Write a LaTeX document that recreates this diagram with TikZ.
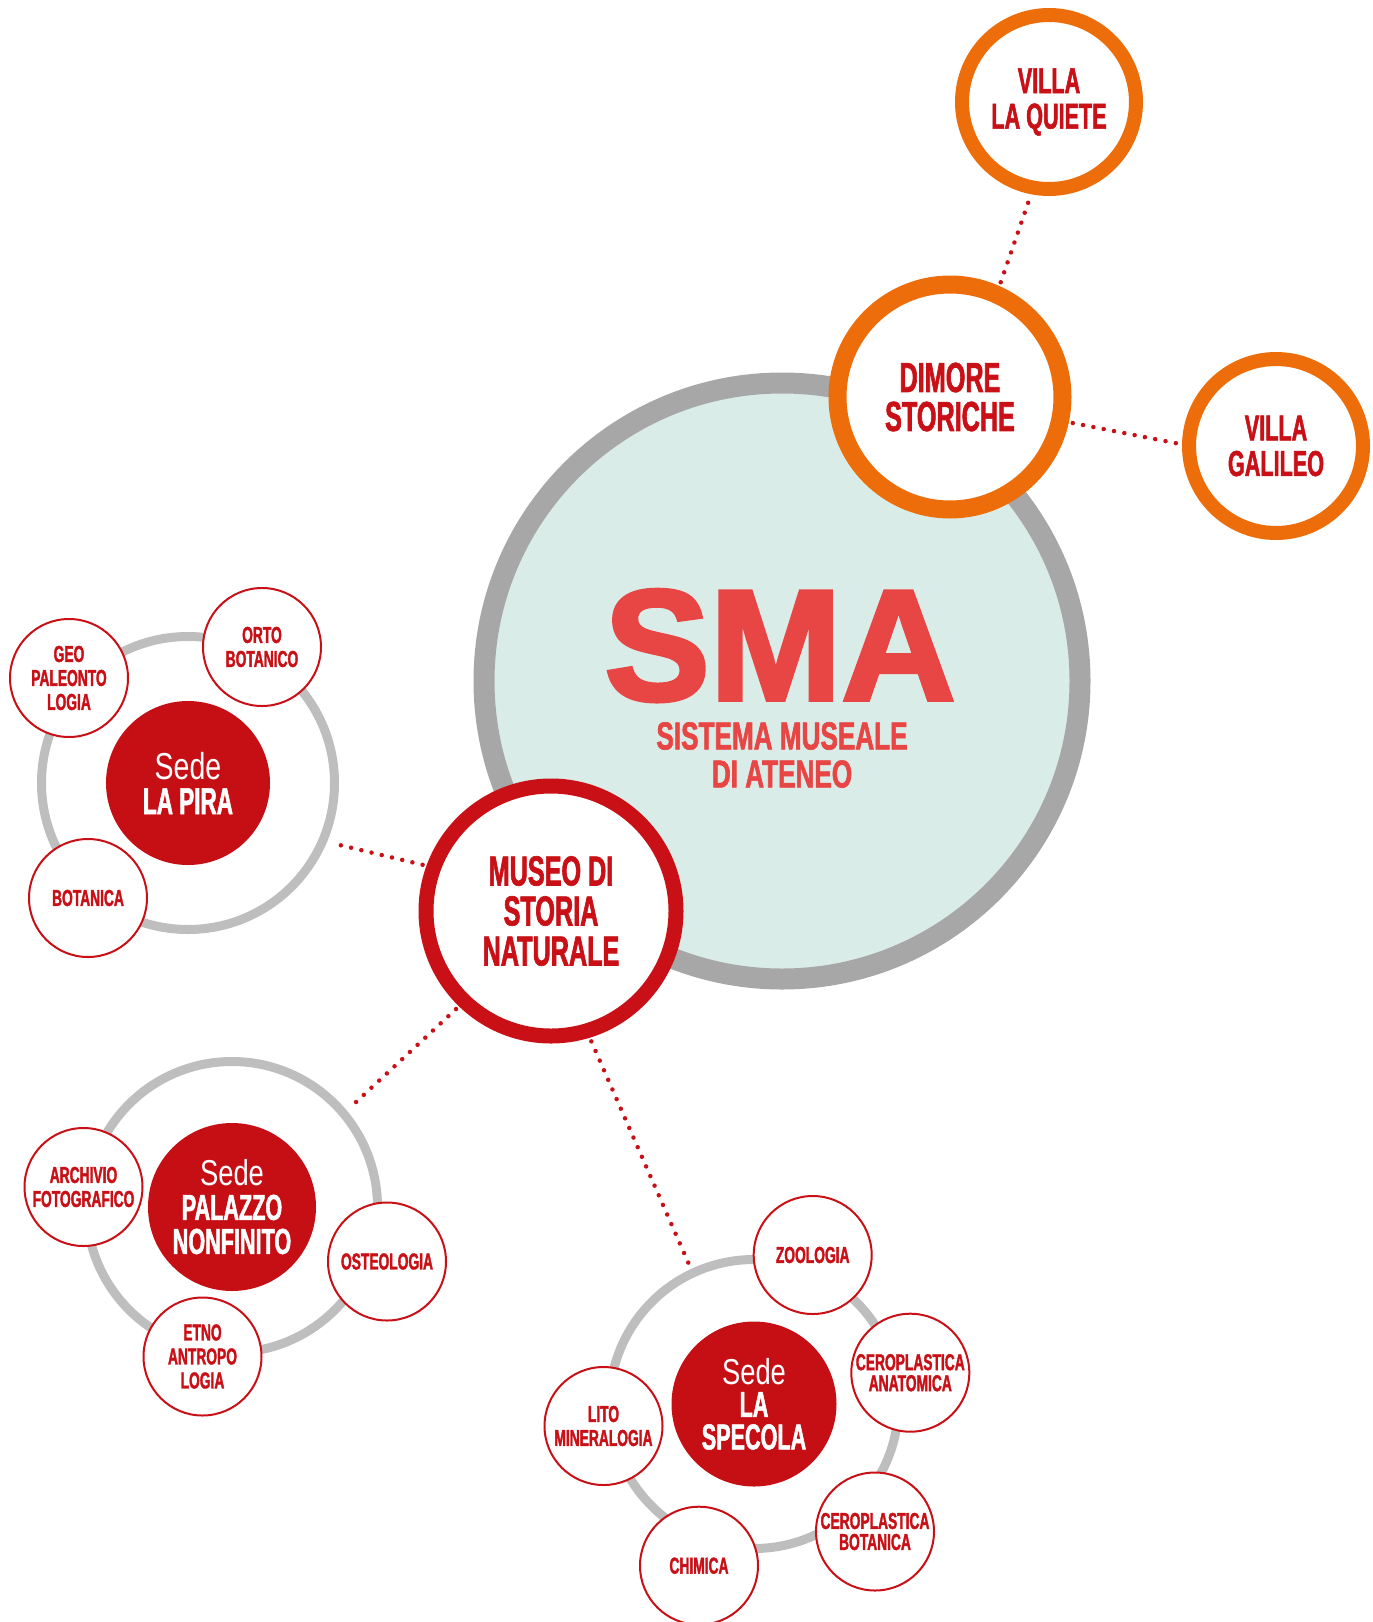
\documentclass[tikz,border=0pt]{standalone}
\usepackage{fontspec}
\setmainfont{Liberation Sans}
\newfontfamily\dinfont{Liberation Sans}[FakeStretch=0.6, BoldFeatures={FakeBold=1.5}]
\newfontfamily\dinwide{Liberation Sans}[FakeStretch=0.67, BoldFeatures={FakeBold=1.5}]
\newfontfamily\sedefont{Liberation Sans}[FakeStretch=0.76]
\newfontfamily\smafont{Liberation Sans}[BoldFeatures={FakeBold=2.5}]
\usepackage{tikz}
\usetikzlibrary{positioning}

\definecolor{smared}{HTML}{E84545}
\definecolor{museored}{HTML}{C81016}
\definecolor{sedered}{HTML}{C60F15}
\definecolor{dimoreorange}{HTML}{EC6D0A}
\definecolor{smamint}{HTML}{DAECE7}
\definecolor{smagray}{HTML}{A7A7A7}
\definecolor{ringgray}{HTML}{BEBEBE}

\begin{document}
\begin{tikzpicture}[x=1pt, y=-1pt,
		smallbox/.style={circle, draw=museored, line width=2pt, fill=white, minimum size=118pt, inner sep=0pt, text=museored, align=center, font=\dinfont\bfseries\fontsize{23}{24}\selectfont},
		sedebox/.style={circle, fill=sedered, inner sep=0pt, text=white, align=center, font=\dinfont\bfseries\fontsize{36}{34}\selectfont},
		ringbox/.style={circle, draw=ringgray, line width=9pt, inner sep=0pt},
		villabox/.style={circle, draw=dimoreorange, line width=14pt, fill=white, minimum size=174pt, inner sep=0pt, text=museored, align=center, font=\dinfont\bfseries\fontsize{36}{35.5}\selectfont},
		link/.style={museored, line width=4.5pt, line cap=round, dash pattern=on 0pt off 10.5pt, shorten <=4pt, shorten >=4pt}]
		\useasboundingbox (0,0) rectangle (1373,1622);

		% sistema museale
		\node[circle, draw=smagray, line width=21pt, fill=smamint, minimum size=596pt, inner sep=0pt] (sma) at (782,681) {};
		\node[text=smared, inner sep=0pt, anchor=base, font=\smafont\bfseries\fontsize{158}{158}\selectfont] (smatitle) at (780,700) {SMA};
		\node[text=smared, inner sep=0pt, align=center, font=\dinwide\bfseries\fontsize{39}{38}\selectfont] (smasub) at (782,755) {SISTEMA MUSEALE\\DI ATENEO};

		% dimore storiche
		\node[circle, draw=dimoreorange, line width=18pt, fill=white, minimum size=225pt, inner sep=0pt, text=museored, align=center, font=\dinfont\bfseries\fontsize{42}{39}\selectfont] (dimore) at (950,397) {DIMORE\\STORICHE};
		\node[villabox] (quiete) at (1049,102) {VILLA\\LA QUIETE};
		\node[villabox] (galileo) at (1276,446) {VILLA\\GALILEO};

		% museo di storia naturale
		\node[circle, draw=museored, line width=15pt, fill=white, minimum size=250pt, inner sep=0pt, text=museored, align=center, font=\dinfont\bfseries\fontsize{42}{40}\selectfont] (museo) at (551,911) {MUSEO DI\\STORIA\\NATURALE};

		% la pira
		\node[ringbox, minimum size=293pt] (piraring) at (188,783) {};
		\node[sedebox, minimum size=164pt, font=\dinfont\bfseries\fontsize{37.5}{35}\selectfont] (pira) at (188,783) {{\sedefont\mdseries Sede}\\LA PIRA};
		\node[smallbox] (geo) at (69,678) {GEO\\PALEONTO\\LOGIA};
		\node[smallbox] (orto) at (262,647) {ORTO\\BOTANICO};
		\node[smallbox] (botanica) at (88,898) {BOTANICA};

		% palazzo nonfinito
		\node[ringbox, minimum size=291pt] (palazzoring) at (232,1207) {};
		\node[sedebox, minimum size=168pt] (palazzo) at (232,1207) {{\sedefont\mdseries Sede}\\PALAZZO\\NONFINITO};
		\node[smallbox] (archivio) at (83.5,1187) {ARCHIVIO\\FOTOGRAFICO};
		\node[smallbox] (osteologia) at (387,1261.5) {OSTEOLOGIA};
		\node[smallbox] (etno) at (202.5,1356.5) {ETNO\\ANTROPO\\LOGIA};

		% la specola
		\node[ringbox, minimum size=289pt] (specolaring) at (754,1404) {};
		\node[sedebox, minimum size=165pt, font=\dinfont\bfseries\fontsize{36}{32.5}\selectfont] (specola) at (754,1404) {{\sedefont\mdseries Sede}\\LA\\SPECOLA};
		\node[smallbox] (zoologia) at (812.7,1255) {ZOOLOGIA};
		\node[smallbox, font=\dinfont\bfseries\fontsize{23}{21}\selectfont] (anatomica) at (910.3,1372.7) {CEROPLASTICA\\ANATOMICA};
		\node[smallbox, font=\dinfont\bfseries\fontsize{23}{21}\selectfont] (cerobot) at (875,1531.5) {CEROPLASTICA\\BOTANICA};
		\node[smallbox] (lito) at (603.5,1426) {LITO\\MINERALOGIA};
		\node[smallbox] (chimica) at (699,1565.7) {CHIMICA};

		% links
		\draw[link] (dimore.66) -- (quiete.-101.5);
		\draw[link] (dimore.-12) -- (galileo.179);
		\draw[link] (museo.160.6) -- (piraring.-23.8);
		\draw[link] (museo.-134.4) -- (palazzoring.40.3);
		\draw[link] (museo.-73.8) -- (specolaring.115.9);
	\end{tikzpicture}
\end{document}
